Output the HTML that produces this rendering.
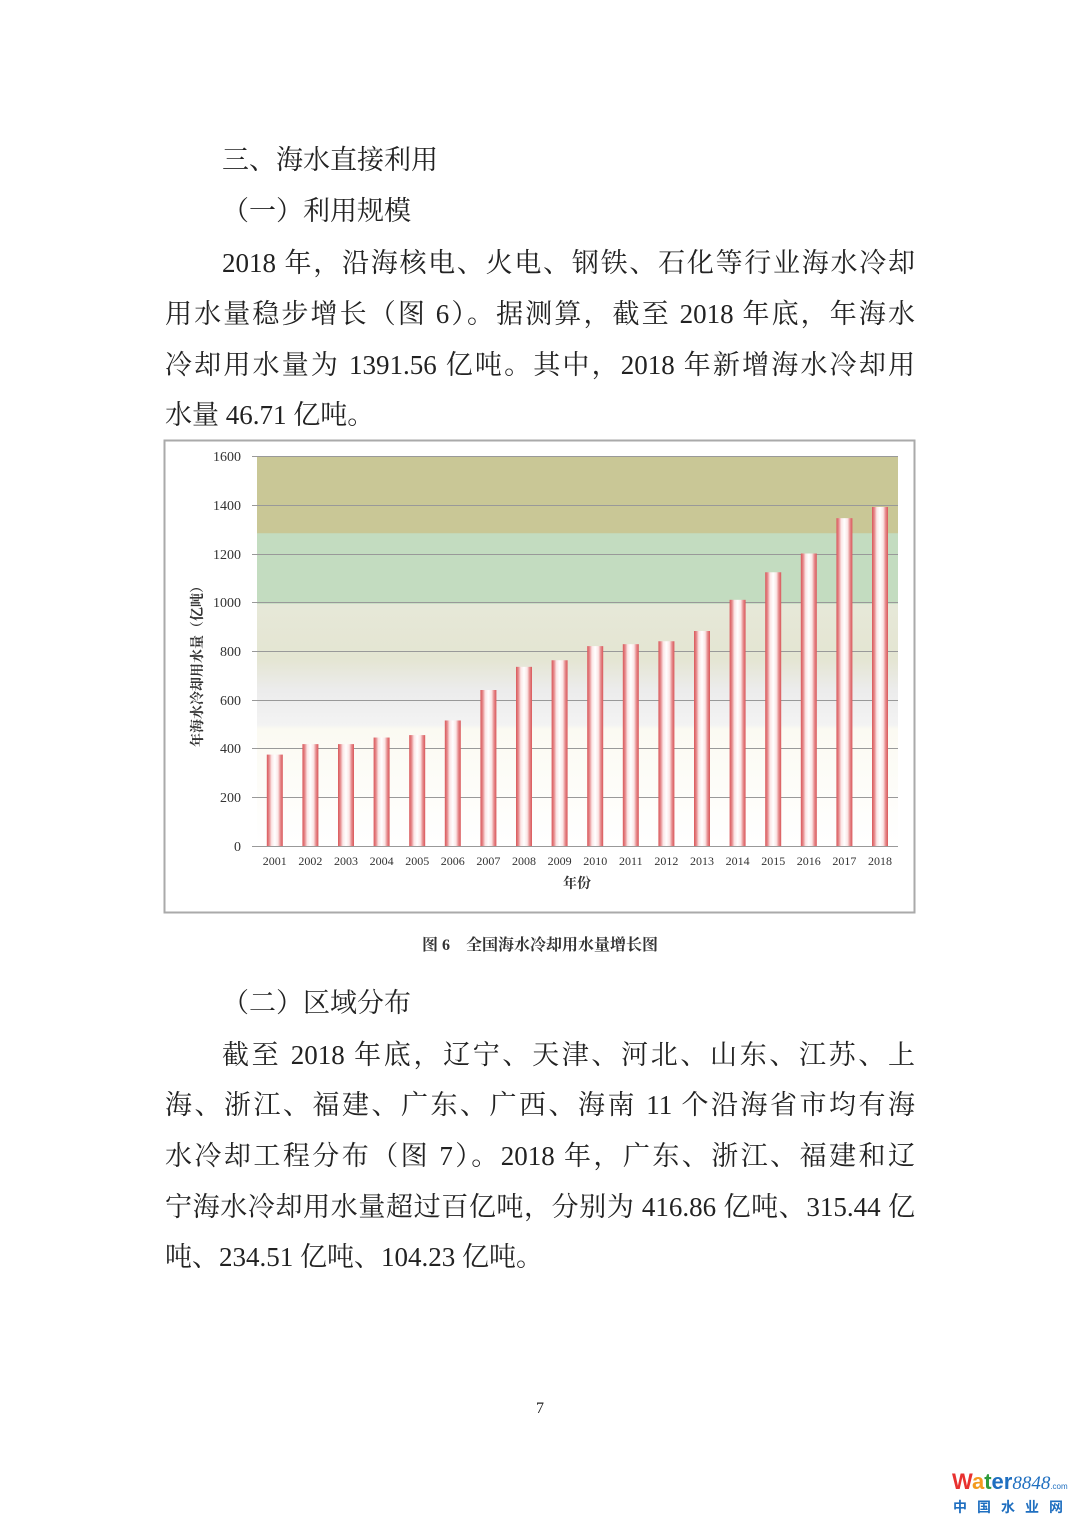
<!DOCTYPE html>
<html><head><meta charset="utf-8"><style>
body{margin:0;width:1080px;height:1527px;background:#fff;position:relative;overflow:hidden;font-family:"Liberation Serif","Noto Serif CJK SC",serif;color:#222}
.l{position:absolute;left:165px;width:750px;font-size:27px;line-height:34px;white-space:nowrap}
.j{text-align:justify;text-align-last:justify}
</style></head><body>
<div class="l" style="top:143px;left:222px">三、海水直接利用</div>
<div class="l" style="top:194px;left:222px">（一）利用规模</div>
<div class="l j" style="top:246px;left:222px;width:693px">2018 年，沿海核电、火电、钢铁、石化等行业海水冷却</div>
<div class="l j" style="top:297px">用水量稳步增长（图 6）。据测算，截至 2018 年底，年海水</div>
<div class="l j" style="top:348px">冷却用水量为 1391.56 亿吨。其中，2018 年新增海水冷却用</div>
<div class="l" style="top:398px">水量 46.71 亿吨。</div>

<svg style="position:absolute;left:0;top:0" width="1080" height="1000">
<defs>
<linearGradient id="bg" x1="0" y1="0" x2="0" y2="1">
<stop offset="0" stop-color="#c9c796"/><stop offset="0.197" stop-color="#c9c796"/>
<stop offset="0.199" stop-color="#c3dcc0"/><stop offset="0.378" stop-color="#c3dcc0"/>
<stop offset="0.38" stop-color="#e6e8d8"/><stop offset="0.52" stop-color="#e4e5d2"/>
<stop offset="0.6" stop-color="#ececec"/><stop offset="0.69" stop-color="#f3f3f3"/>
<stop offset="0.7" stop-color="#fbfaf2"/><stop offset="1" stop-color="#ffffff"/>
</linearGradient>
<linearGradient id="bar" x1="0" y1="0" x2="1" y2="0">
<stop offset="0" stop-color="#d9575a"/><stop offset="0.15" stop-color="#e68a8c"/><stop offset="0.3" stop-color="#fbe6e6"/><stop offset="0.5" stop-color="#ffffff"/><stop offset="0.7" stop-color="#fbe6e6"/><stop offset="0.85" stop-color="#e68a8c"/><stop offset="1" stop-color="#d9575a"/>
</linearGradient>
</defs>
<rect x="164.5" y="440.5" width="750" height="472" fill="#fff" stroke="#aaa" stroke-width="2"/>
<rect x="257" y="456" width="641" height="390" fill="url(#bg)"/>
<g stroke="#999" stroke-width="1">
<line x1="252" x2="898" y1="456.5" y2="456.5"/><line x1="252" x2="898" y1="505.5" y2="505.5"/><line x1="252" x2="898" y1="554.5" y2="554.5"/><line x1="252" x2="898" y1="602.5" y2="602.5"/><line x1="252" x2="898" y1="651.5" y2="651.5"/><line x1="252" x2="898" y1="700.5" y2="700.5"/><line x1="252" x2="898" y1="748.5" y2="748.5"/><line x1="252" x2="898" y1="797.5" y2="797.5"/><line x1="252" x2="898" y1="846.5" y2="846.5"/>
</g>
<g font-size="14" fill="#333" text-anchor="end">
<text x="241" y="461">1600</text><text x="241" y="510">1400</text><text x="241" y="559">1200</text><text x="241" y="607">1000</text><text x="241" y="656">800</text><text x="241" y="705">600</text><text x="241" y="753">400</text><text x="241" y="802">200</text><text x="241" y="851">0</text>
</g>
<g id="bars"></g>
<g font-size="12" fill="#333" text-anchor="middle" id="xl"></g>
<text x="577" y="888" font-size="14" font-weight="bold" text-anchor="middle" fill="#333">年份</text>
<text transform="translate(202,663) rotate(-90)" font-size="14" font-weight="bold" text-anchor="middle" fill="#333">年海水冷却用水量（亿吨）</text>
<text x="540" y="950" font-size="16" font-weight="bold" text-anchor="middle" fill="#333">图 6　全国海水冷却用水量增长图</text>
</svg>
<script>
var v=[375,418,418,445,455,515,640,735,762,820,828,840,882,1010,1123,1200,1345,1391];
var b='',t='';
for(var i=0;i<18;i++){var cx=257+35.6*(i+0.5),h=v[i]*0.24375;
b+='<rect x="'+(cx-8)+'" y="'+(846-h)+'" width="16" height="'+h+'" fill="url(#bar)"/>';
t+='<text x="'+cx+'" y="865">'+(2001+i)+'</text>';}
document.getElementById('bars').innerHTML=b;document.getElementById('xl').innerHTML=t;
</script>
<div class="l" style="top:986px;left:222px">（二）区域分布</div>
<div class="l j" style="top:1038px;left:222px;width:693px">截至 2018 年底，辽宁、天津、河北、山东、江苏、上</div>
<div class="l j" style="top:1088px">海、浙江、福建、广东、广西、海南 11 个沿海省市均有海</div>
<div class="l j" style="top:1139px">水冷却工程分布（图 7）。2018 年，广东、浙江、福建和辽</div>
<div class="l j" style="top:1190px">宁海水冷却用水量超过百亿吨，分别为 416.86 亿吨、315.44 亿</div>
<div class="l" style="top:1240px">吨、234.51 亿吨、104.23 亿吨。</div>
<div style="position:absolute;left:536px;top:1400px;font-size:16px">7</div>
<div style="position:absolute;left:952px;top:1470px;font-family:'Liberation Sans',sans-serif;font-size:22px;font-weight:bold;line-height:24px;white-space:nowrap"><span style="color:#e8312f">W</span><span style="color:#f39a1e">a</span><span style="color:#2e9b3a">t</span><span style="color:#1f6fc0">er</span><span style="color:#1f6fc0;font-family:'Liberation Serif',serif;font-style:italic;font-weight:normal;font-size:19px">8848</span><span style="color:#1f6fc0;font-size:8px;font-weight:normal">.com</span></div>
<div style="position:absolute;left:953px;top:1497px;font-family:'Noto Sans CJK SC',sans-serif;font-size:14px;font-weight:bold;color:#1f6fc0;letter-spacing:10px;white-space:nowrap">中国水业网</div>
</body></html>
